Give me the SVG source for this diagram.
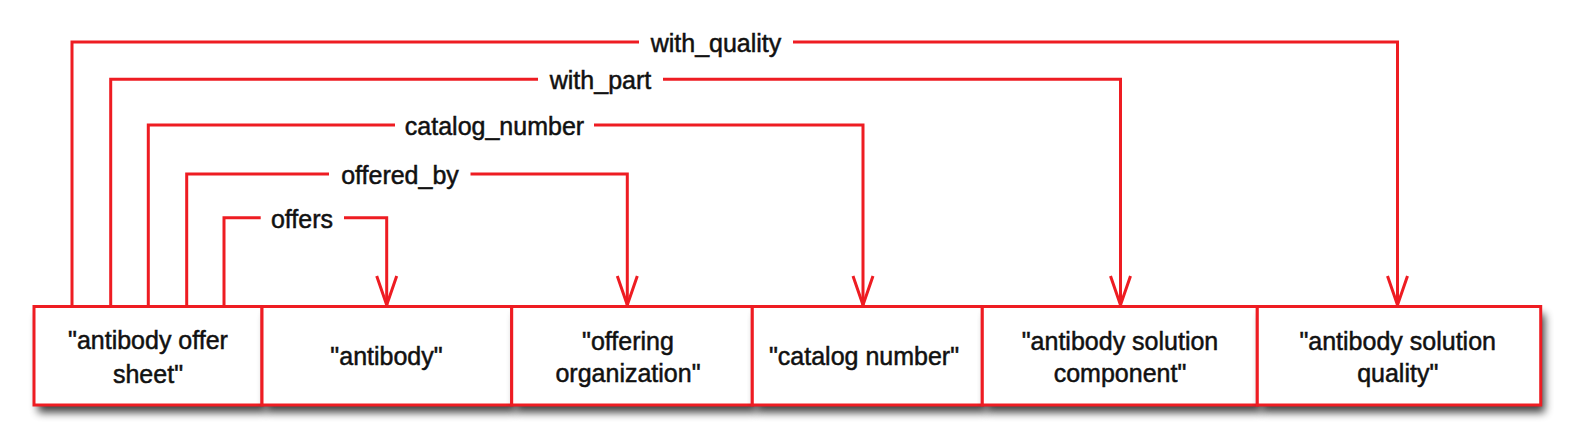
<svg xmlns="http://www.w3.org/2000/svg" width="1576" height="447" viewBox="0 0 1576 447">
  <style>
    .conn { fill: none; stroke: #ee1c22; stroke-width: 3; stroke-linejoin: miter; }
    .gap { fill: #ffffff; stroke: none; }
    .lbl { font-family: "Liberation Sans", Arial, sans-serif; font-size: 25px; fill: #111; stroke: #111; stroke-width: 0.5; text-anchor: middle; }
    .box { fill: #ffffff; stroke: #ee1c22; stroke-width: 3; }
    .shadow { fill: #000; filter: url(#blur); opacity: 0.75; }
    .txt { font-family: "Liberation Sans", Arial, sans-serif; font-size: 25px; fill: #111; stroke: #111; stroke-width: 0.5; text-anchor: middle; }
    .arrowhead { fill: none; stroke: #ee1c22; stroke-width: 3; stroke-linejoin: miter; }
  </style>
  <defs>
    <filter id="blur" x="-10%" y="-30%" width="130%" height="180%">
      <feGaussianBlur stdDeviation="4.5"/>
    </filter>
    <marker id="vhead" viewBox="-32 -13 34 26" refX="0" refY="0" markerWidth="34" markerHeight="26" markerUnits="userSpaceOnUse" orient="auto">
      <path class="arrowhead" d="M-29,-10 L0,0 L-29,10"/>
    </marker>
  </defs>
  <rect width="1576" height="447" fill="#ffffff"/>

  <g id="connectors">
    <g id="e-with_quality">
      <path class="conn" d="M72,306 V42 H1397.5 V305" marker-end="url(#vhead)"/>
      <rect class="gap" x="639" y="36" width="154" height="12"/>
      <text class="lbl" x="716" y="52">with_quality</text>
    </g>
    <g id="e-with_part">
      <path class="conn" d="M110.7,306 V79.3 H1120.5 V305" marker-end="url(#vhead)"/>
      <rect class="gap" x="538" y="73" width="125" height="12"/>
      <text class="lbl" x="600.5" y="89">with_part</text>
    </g>
    <g id="e-catalog_number">
      <path class="conn" d="M148.3,306 V125 H863 V305" marker-end="url(#vhead)"/>
      <rect class="gap" x="395" y="119" width="199" height="12"/>
      <text class="lbl" x="494.5" y="135">catalog_number</text>
    </g>
    <g id="e-offered_by">
      <path class="conn" d="M186.7,306 V174 H627.3 V305" marker-end="url(#vhead)"/>
      <rect class="gap" x="329" y="168" width="141.5" height="12"/>
      <text class="lbl" x="400" y="184">offered_by</text>
    </g>
    <g id="e-offers">
      <path class="conn" d="M224,306 V217.7 H386.7 V305" marker-end="url(#vhead)"/>
      <rect class="gap" x="260.7" y="211" width="83.3" height="12"/>
      <text class="lbl" x="302" y="227.5">offers</text>
    </g>
  </g>

  <g id="n1">
    <rect class="shadow" x="38" y="314" width="228" height="98.5"/>
    <rect class="box" x="34" y="306.5" width="228" height="98.5"/>
    <text class="txt" x="148" y="349">"antibody offer</text>
    <text class="txt" x="148" y="382.5">sheet"</text>
  </g>
  <g id="n2">
    <rect class="shadow" x="266" y="314" width="249.7" height="98.5"/>
    <rect class="box" x="262" y="306.5" width="249.7" height="98.5"/>
    <text class="txt" x="386.5" y="365">"antibody"</text>
  </g>
  <g id="n3">
    <rect class="shadow" x="515.7" y="314" width="240.6" height="98.5"/>
    <rect class="box" x="511.7" y="306.5" width="240.6" height="98.5"/>
    <text class="txt" x="628" y="350">"offering</text>
    <text class="txt" x="628" y="381.7">organization"</text>
  </g>
  <g id="n4">
    <rect class="shadow" x="756.3" y="314" width="230" height="98.5"/>
    <rect class="box" x="752.3" y="306.5" width="230" height="98.5"/>
    <text class="txt" x="864" y="365">"catalog number"</text>
  </g>
  <g id="n5">
    <rect class="shadow" x="986.3" y="314" width="275" height="98.5"/>
    <rect class="box" x="982.3" y="306.5" width="275" height="98.5"/>
    <text class="txt" x="1120" y="350">"antibody solution</text>
    <text class="txt" x="1120" y="381.7">component"</text>
  </g>
  <g id="n6">
    <rect class="shadow" x="1261.3" y="314" width="283.4" height="98.5"/>
    <rect class="box" x="1257.3" y="306.5" width="283.4" height="98.5"/>
    <text class="txt" x="1397.7" y="350">"antibody solution</text>
    <text class="txt" x="1397.7" y="381.7">quality"</text>
  </g>
</svg>
